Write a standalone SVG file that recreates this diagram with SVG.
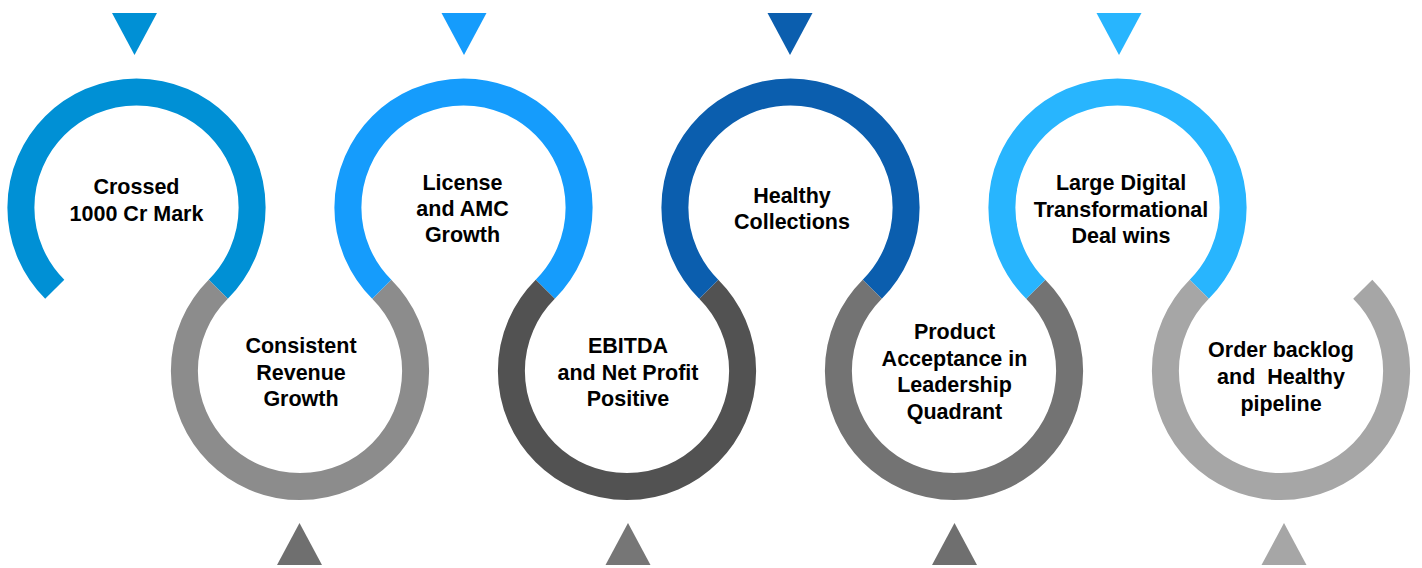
<svg xmlns="http://www.w3.org/2000/svg" width="1422" height="568" viewBox="0 0 1422 568">
<style>
.arc{fill:none;stroke-width:27;stroke-linecap:butt}
.lbl{font-family:"Liberation Sans",Arial,sans-serif;font-weight:bold;font-size:21.5px;fill:#000;text-anchor:middle}
</style>
<rect width="1422" height="568" fill="#fff"/>
<g id="node1">
<path class="arc" stroke="#0090D5" d="M54.75 289.25 A115.61 115.61 0 1 1 218.25 289.25"/>
<polygon fill="#0090D5" points="112,13 157,13 134.5,55"/>
<text class="lbl"><tspan x="136.5" y="194">Crossed</tspan><tspan x="136.5" y="221">1000 Cr Mark</tspan></text>
</g>
<g id="node2">
<path class="arc" stroke="#8C8C8C" d="M218.25 289.25 A115.61 115.61 0 1 0 381.75 289.25"/>
<polygon fill="#6F6F6F" points="277,565 322,565 299.5,523"/>
<text class="lbl"><tspan x="301" y="353">Consistent</tspan><tspan x="301" y="379.5">Revenue</tspan><tspan x="301" y="406">Growth</tspan></text>
</g>
<g id="node3">
<path class="arc" stroke="#159CFC" d="M381.75 289.25 A115.61 115.61 0 1 1 545.25 289.25"/>
<polygon fill="#159CFC" points="441.5,13 486.5,13 464,55"/>
<text class="lbl"><tspan x="462.5" y="190">License</tspan><tspan x="462.5" y="216">and AMC</tspan><tspan x="462.5" y="242">Growth</tspan></text>
</g>
<g id="node4">
<path class="arc" stroke="#525252" d="M545.25 289.25 A115.61 115.61 0 1 0 708.75 289.25"/>
<polygon fill="#767676" points="605.5,565 650.5,565 628,523"/>
<text class="lbl"><tspan x="628" y="353">EBITDA</tspan><tspan x="628" y="379.5">and Net Profit</tspan><tspan x="628" y="406">Positive</tspan></text>
</g>
<g id="node5">
<path class="arc" stroke="#0B5EAE" d="M708.75 289.25 A115.61 115.61 0 1 1 872.25 289.25"/>
<polygon fill="#0B5EAE" points="767.5,13 812.5,13 790,55"/>
<text class="lbl"><tspan x="792" y="203">Healthy</tspan><tspan x="792" y="229">Collections</tspan></text>
</g>
<g id="node6">
<path class="arc" stroke="#737373" d="M872.25 289.25 A115.61 115.61 0 1 0 1035.75 289.25"/>
<polygon fill="#6F6F6F" points="932,565 977,565 954.5,523"/>
<text class="lbl"><tspan x="954.5" y="339">Product</tspan><tspan x="954.5" y="366">Acceptance in</tspan><tspan x="954.5" y="392">Leadership</tspan><tspan x="954.5" y="419">Quadrant</tspan></text>
</g>
<g id="node7">
<path class="arc" stroke="#28B5FE" d="M1035.75 289.25 A115.61 115.61 0 1 1 1199.25 289.25"/>
<polygon fill="#28B5FE" points="1096.5,13 1141.5,13 1119,55"/>
<text class="lbl"><tspan x="1121" y="190">Large Digital</tspan><tspan x="1121" y="217">Transformational</tspan><tspan x="1121" y="243">Deal wins</tspan></text>
</g>
<g id="node8">
<path class="arc" stroke="#A6A6A6" d="M1199.25 289.25 A115.61 115.61 0 1 0 1362.75 289.25"/>
<polygon fill="#A6A6A6" points="1261.5,565 1306.5,565 1284,523"/>
<text class="lbl" xml:space="preserve"><tspan x="1281" y="357">Order backlog</tspan><tspan x="1281" y="384">and  Healthy</tspan><tspan x="1281" y="411">pipeline</tspan></text>
</g>
</svg>
